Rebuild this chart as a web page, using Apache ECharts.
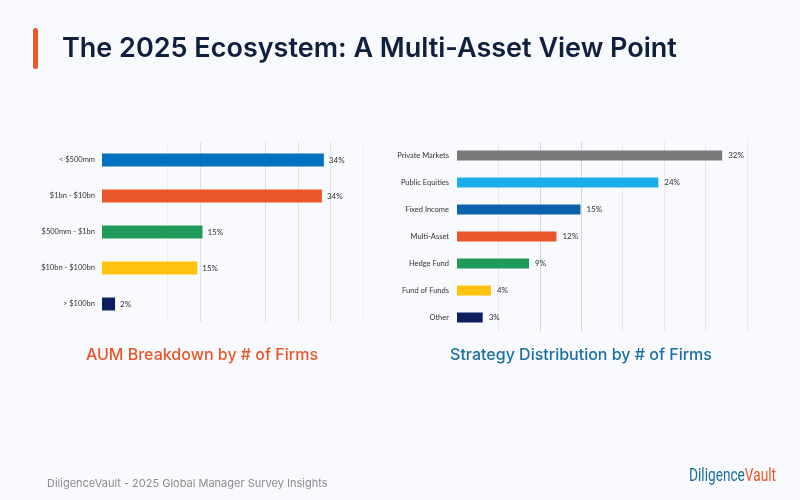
<!DOCTYPE html>
<html>
<head>
    <meta charset="utf-8">
    <title>The 2025 Ecosystem</title>
    <script src="https://cdn.jsdelivr.net/npm/echarts@6/dist/echarts.min.js"></script>
    <style>
        html, body { margin: 0; padding: 0; background: #f8fafd; }
    </style>
</head>
<body>
    <div id="main" style="width: 800px;height:500px;"></div>
    <script type="text/javascript">
        // AUM breakdown (left chart)
        var aumCategories = ["< $500mm", "$1bn - $10bn", "$500mm - $1bn", "$10bn - $100bn", "> $100bn"]
        var aumValues = [34, 33.7, 15.4, 14.6, 2]
        var aumColors = ["#0070c0", "#e8562a", "#1f9a5b", "#ffc20e", "#0c1f5e"]

        // strategy distribution (right chart)
        var stratCategories = ["Private Markets", "Public Equities", "Fixed Income", "Multi-Asset", "Hedge Fund", "Fund of Funds", "Other"]
        var stratValues = [32, 24.3, 14.9, 12, 8.7, 4.1, 3.1]
        var stratColors = ["#7a7a7a", "#1caeea", "#0b62aa", "#e8562a", "#1f9a5b", "#ffc20e", "#0c1f5e"]

        var myChart = echarts.init(document.getElementById("main"))

        function pct(p) {
            return Math.round(p.value) + "%"
        }

        function barData(values, colors) {
            return values.map(function (v, i) {
                return { value: v, itemStyle: { color: colors[i] } }
            })
        }

        var labelFont = "Lato, 'Open Sans', sans-serif"
        var none = "rgba(0,0,0,0)"

        var option = {
            backgroundColor: "#f8fafd",
            title: [
                {
                    text: "The 2025 Ecosystem: A Multi-Asset View Point",
                    left: 57, top: 30,
                    textStyle: { fontFamily: "Inter", fontSize: 27, fontWeight: 600, color: "#0f1f3d" }
                },
                {
                    text: "AUM Breakdown by # of Firms",
                    left: 197, top: 342, textAlign: "center",
                    textStyle: { fontFamily: "Inter", fontSize: 16, fontWeight: 500, color: "#e8562a" }
                },
                {
                    text: "Strategy Distribution by # of Firms",
                    left: 576, top: 342, textAlign: "center",
                    textStyle: { fontFamily: "Inter", fontSize: 16, fontWeight: 500, color: "#1a6fa0" }
                },
                {
                    text: "DiligenceVault - 2025 Global Manager Survey Insights",
                    left: 42, top: 473,
                    textStyle: { fontFamily: "Inter", fontSize: 11, fontWeight: 400, color: "#8c8c8c" }
                }
            ],
            graphic: [
                {
                    type: "rect",
                    shape: { x: 33, y: 28, width: 5, height: 41, r: 2.5 },
                    style: { fill: "#e8562a" }
                },
                {
                    type: "text",
                    x: 689, y: 467, scaleX: 0.72,
                    style: {
                        text: "{a|Diligence}{b|Vault}",
                        rich: {
                            a: { fontFamily: "Roboto", fontSize: 19, fontWeight: 400, fill: "#1a6fa0" },
                            b: { fontFamily: "Roboto", fontSize: 19, fontWeight: 400, fill: "#e8562a" }
                        }
                    }
                }
            ],
            grid: [
                { left: 102, top: 142, width: 261, height: 180 },
                { left: 457, top: 142, width: 290, height: 189 }
            ],
            xAxis: [
                {
                    gridIndex: 0, type: "value", min: 0, max: 40, interval: 5,
                    axisLabel: { show: false }, axisLine: { show: false }, axisTick: { show: false },
                    splitLine: { lineStyle: { color: [none, none, "#eceef1", "#e0e2e6", none, "#e0e2e6", "#e0e2e6", "#e0e2e6", "#eceef1"] } }
                },
                {
                    gridIndex: 1, type: "value", min: 0, max: 35, interval: 5,
                    axisLabel: { show: false }, axisLine: { show: false }, axisTick: { show: false },
                    splitLine: { lineStyle: { color: [none, "#e6e8ec", "#d4d6da", "#d4d6da", "#e6e8ec", "#e6e8ec", "#e6e8ec", "#e6e8ec"] } }
                }
            ],
            yAxis: [
                {
                    gridIndex: 0, type: "category", data: aumCategories, inverse: true,
                    axisLine: { show: false }, axisTick: { show: false },
                    axisLabel: { fontFamily: labelFont, fontSize: 7.5, color: "#333", margin: 7 }
                },
                {
                    gridIndex: 1, type: "category", data: stratCategories, inverse: true,
                    axisLine: { show: false }, axisTick: { show: false },
                    axisLabel: { fontFamily: labelFont, fontSize: 7.5, color: "#333", margin: 8 }
                }
            ],
            series: [
                {
                    type: "bar", xAxisIndex: 0, yAxisIndex: 0,
                    data: barData(aumValues, aumColors),
                    barWidth: 13,
                    label: { show: true, position: "right", distance: 5, formatter: pct, fontFamily: labelFont, fontSize: 8, color: "#333" }
                },
                {
                    type: "bar", xAxisIndex: 1, yAxisIndex: 1,
                    data: barData(stratValues, stratColors),
                    barWidth: 10,
                    label: { show: true, position: "right", distance: 6, formatter: pct, fontFamily: labelFont, fontSize: 8, color: "#333" }
                }
            ]
        }

        myChart.setOption(option)
    </script>
</body>
</html>
